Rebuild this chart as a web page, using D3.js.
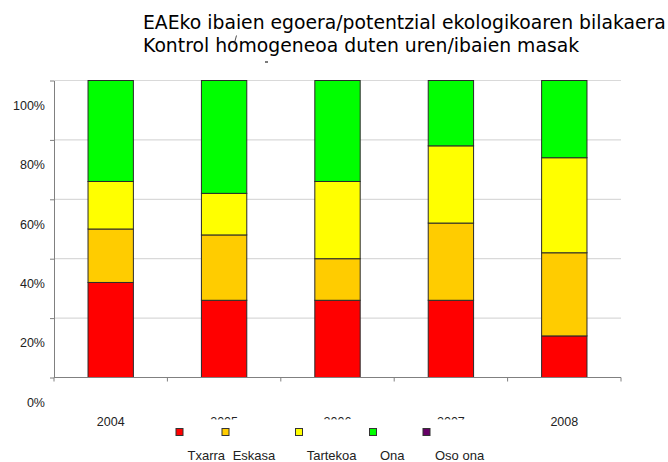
<!DOCTYPE html>
<html>
<head>
<meta charset="utf-8">
<script src="https://cdn.jsdelivr.net/npm/d3@7"></script>
<style>
  html, body { margin: 0; padding: 0; background: #fff; }
  svg { display: block; }
</style>
</head>
<body>
<svg id="chart" width="668" height="462"></svg>
<script>
// Years on the category axis
const years = ["2004", "2005", "2006", "2007", "2008"];
// Share of water bodies per status class (percent of total, per year)
const txarra  = [32, 26, 26, 26, 14];
const eskasa  = [18, 22, 14, 26, 28];
const tartekoa = [16, 14, 26, 26, 32];
const ona     = [34, 38, 34, 22, 26];
const osoOna  = [0, 0, 0, 0, 0];
// Class names, in stacking order
const classes = ["Txarra", "Eskasa", "Tartekoa", "Ona", "Oso ona"];
const classColors = ["#ff0000", "#ffcc00", "#ffff00", "#00ff00", "#660066"];
// Value-axis ticks and labels
const yTicks = [0, 20, 40, 60, 80, 100];
const yTickLabels = ["0%", "20%", "40%", "60%", "80%", "100%"];
const titleLines = [
  "EAEko ibaien egoera/potentzial ekologikoaren bilakaera",
  "Kontrol homogeneoa duten uren/ibaien masak"
];

const seriesValues = [txarra, eskasa, tartekoa, ona, osoOna];
const rows = years.map((y, i) => {
  const r = { year: y };
  classes.forEach((c, k) => { r[c] = seriesValues[k][i]; });
  return r;
});

const svg = d3.select("#chart");
const plot = { left: 54, right: 621, top: 80.5, bottom: 377.5 };

const x = d3.scaleBand().domain(years).range([plot.left, plot.right])
  .paddingInner(0.6).paddingOuter(0.3);
const y = d3.scaleLinear().domain([0, 100]).range([plot.bottom, plot.top]);
const color = d3.scaleOrdinal().domain(classes).range(classColors);

// Title
const title = svg.append("text")
  .attr("x", 143).attr("y", 28.5)
  .style("font-family", "'DejaVu Sans', sans-serif")
  .style("font-size", "18.8px")
  .attr("fill", "#000");
titleLines.forEach((t, i) => {
  title.append("tspan").attr("x", 143).attr("dy", i === 0 ? 0 : 23.5).text(t);
});
// stray pen marks near the subtitle
svg.append("path").attr("d", "M234,44.5 L236.5,35.5").attr("stroke", "#222").attr("stroke-width", 0.8).attr("fill", "none");
svg.append("path").attr("d", "M265,62 L268,62").attr("stroke", "#222").attr("stroke-width", 1.2).attr("fill", "none");

// Horizontal gridlines
svg.append("g").selectAll("line").data(yTicks.slice(1)).join("line")
  .attr("x1", plot.left).attr("x2", plot.right)
  .attr("y1", d => y(d)).attr("y2", d => y(d))
  .attr("stroke", "#d9d9d9").attr("stroke-width", 1.2);

// Stacked bars
const stack = d3.stack().keys(classes)(rows);
svg.append("g").selectAll("g").data(stack).join("g")
  .attr("fill", d => color(d.key))
  .selectAll("rect").data(d => d.filter(s => s[1] - s[0] > 0)).join("rect")
  .attr("x", d => x(d.data.year))
  .attr("width", x.bandwidth())
  .attr("y", d => y(d[1]))
  .attr("height", d => y(d[0]) - y(d[1]))
  .attr("stroke", "#2a2a2a").attr("stroke-width", 1);

// Value axis (labels sit below their tick)
const yAxis = svg.append("g").attr("transform", `translate(${plot.left},0)`)
  .call(d3.axisLeft(y).tickValues(yTicks).tickSize(4).tickSizeOuter(0)
    .tickFormat((d, i) => yTickLabels[i]));
yAxis.select(".domain").attr("stroke", "#808080");
yAxis.selectAll(".tick line").attr("stroke", "#808080");
yAxis.selectAll(".tick text")
  .attr("x", -9).attr("dy", "0.35em")
  .attr("transform", "translate(0,24.5)")
  .style("font-family", "'Liberation Sans', Arial, sans-serif")
  .style("font-size", "12.5px").attr("fill", "#222");

// Category axis line with ticks at band boundaries
const half = (x.step() - x.bandwidth()) / 2;
const bounds = years.map(d => x(d) - half).concat([plot.right]);
svg.append("line").attr("x1", plot.left).attr("x2", plot.right)
  .attr("y1", plot.bottom).attr("y2", plot.bottom)
  .attr("stroke", "#808080").attr("stroke-width", 1.2);
svg.append("g").selectAll("line").data(bounds).join("line")
  .attr("x1", d => d).attr("x2", d => d)
  .attr("y1", plot.bottom).attr("y2", plot.bottom + 4)
  .attr("stroke", "#808080");

// Year labels
svg.append("g").selectAll("text").data(years).join("text")
  .attr("x", d => x(d) + x.bandwidth() / 2).attr("y", 425.5)
  .attr("text-anchor", "middle")
  .style("font-family", "'Liberation Sans', Arial, sans-serif")
  .style("font-size", "12.5px").attr("fill", "#222")
  .text(d => d);

// Legend
const legend = svg.append("g");
legend.append("rect").attr("x", 168).attr("y", 419.5).attr("width", 325).attr("height", 43).attr("fill", "#fff");
const legendSwatchX = [176, 222, 295.5, 369.5, 423];
const legendTextX = [187.5, 232.7, 306.7, 380, 435];
legend.selectAll("rect.sw").data(classes).join("rect").attr("class", "sw")
  .attr("x", (d, i) => legendSwatchX[i]).attr("y", 428.5)
  .attr("width", 7).attr("height", 7)
  .attr("fill", d => color(d)).attr("stroke", "#333").attr("stroke-width", 1);
legend.selectAll("text").data(classes).join("text")
  .attr("x", (d, i) => legendTextX[i]).attr("y", 460)
  .style("font-family", "'Liberation Sans', Arial, sans-serif")
  .style("font-size", "13px").attr("fill", "#222")
  .text(d => d);
</script>
</body>
</html>
